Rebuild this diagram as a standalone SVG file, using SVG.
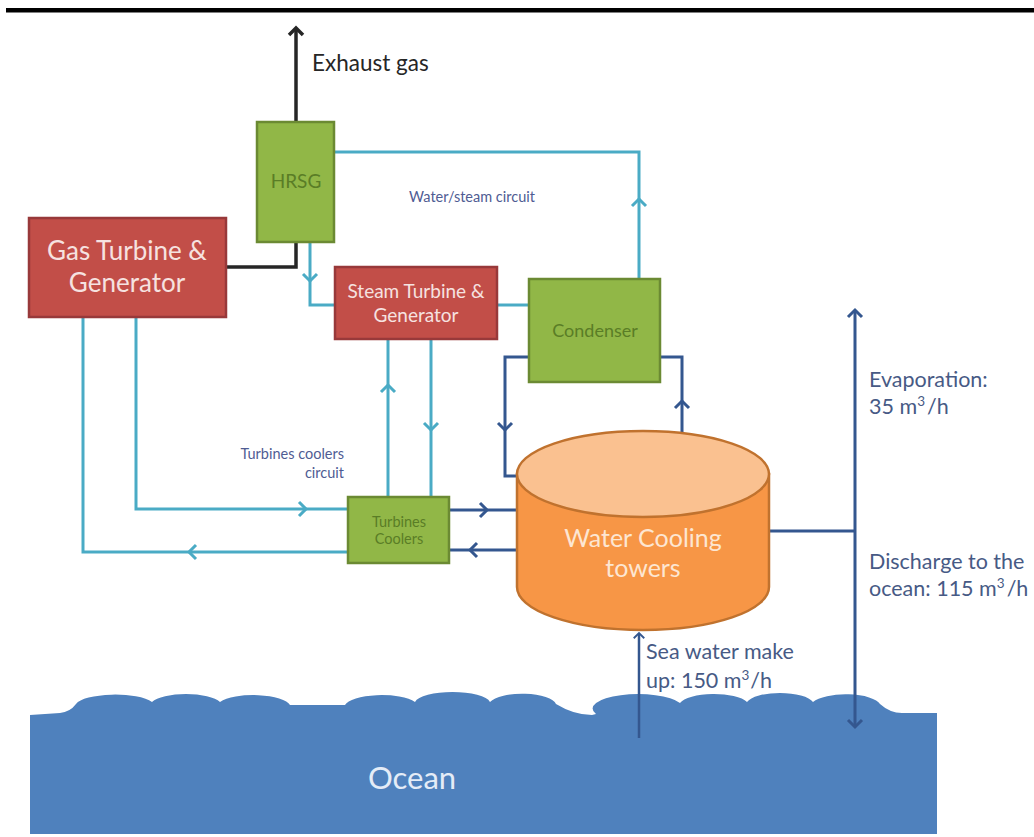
<svg xmlns="http://www.w3.org/2000/svg" xmlns:xlink="http://www.w3.org/1999/xlink" width="1034" height="837" viewBox="0 0 1034 837">
<style>
  .cy{fill:none;stroke:#4aabc5;stroke-width:3;stroke-linejoin:miter}
  .db{fill:none;stroke:#34578f;stroke-width:3;stroke-linejoin:miter}
  .bk{fill:none;stroke:#262626;stroke-width:3.5;stroke-linejoin:miter}
  .green{fill:#91b747;stroke:#6b8a33;stroke-width:2.5}
  .red{fill:#c24e48;stroke:#98393a;stroke-width:2.5}
  .t{font-family:Lato,"Liberation Sans",sans-serif}
  .gt{fill:#5a7d26}
  .rt{fill:#f6e2e0}
  .lbl{fill:#475a85;font-size:21.5px}
  .sm{fill:#4f5c93;font-size:14.5px}
  .sup{font-size:13.5px}
</style>
<defs>
  <path id="chev" d="M-7,-7 L0,0 L-7,7" fill="none"/>
</defs>
<rect x="6" y="8" width="1028" height="4.5" fill="#000"/>

<g id="ocean">
  <path fill="#4f81bd" d="M30,834 L30,715 L60,713 Q70,712 76,704 A40,12 0 0 1 152,702 A36,12 0 0 1 220,702 A37,12 0 0 1 290,705 L345,705 A37,12 0 0 1 415,702 A38,12 0 0 1 490,702 A34,12 0 0 1 556,704 Q574,715 592,715 L596,714 A44,14 0 0 1 680,703 A35,12 0 0 1 747,702 A34,12 0 0 1 813,702 A35,12 0 0 1 880,704 Q890,713 902,713 L937,713 L937,834 Z"/>
  <text class="t" x="412" y="789" text-anchor="middle" font-size="31" fill="#e4ecf7">Ocean</text>
</g>

<g id="connectors">
  <!-- exhaust -->
  <path class="bk" d="M296,122 L296,29"/>
  <use xlink:href="#chev" class="bk" transform="translate(296,28) rotate(-90)"/>
  <path class="bk" d="M226,267 L296,267 L296,242"/>
  <!-- water/steam circuit -->
  <path class="cy" d="M334,152 L639,152 L639,279"/>
  <use xlink:href="#chev" class="cy" transform="translate(639,199) rotate(-90)"/>
  <path class="cy" d="M310,242 L310,305 L335,305"/>
  <use xlink:href="#chev" class="cy" transform="translate(310,281) rotate(90)"/>
  <path class="cy" d="M497,305 L529,305"/>
  <!-- turbine coolers circuit -->
  <path class="cy" d="M83,317 L83,552 L348,552"/>
  <use xlink:href="#chev" class="cy" transform="translate(189,552) rotate(180)"/>
  <path class="cy" d="M136,317 L136,509 L348,509"/>
  <use xlink:href="#chev" class="cy" transform="translate(306,509)"/>
  <path class="cy" d="M388,497 L388,339"/>
  <use xlink:href="#chev" class="cy" transform="translate(388,385) rotate(-90)"/>
  <path class="cy" d="M431,339 L431,497"/>
  <use xlink:href="#chev" class="cy" transform="translate(431,430) rotate(90)"/>
  <!-- cooling water -->
  <path class="db" d="M529,357 L505,357 L505,476 L520,476"/>
  <use xlink:href="#chev" class="db" transform="translate(505,430) rotate(90)"/>
  <path class="db" d="M682,440 L682,357 L660,357"/>
  <use xlink:href="#chev" class="db" transform="translate(682,401) rotate(-90)"/>
  <path class="db" d="M449,510 L520,510"/>
  <use xlink:href="#chev" class="db" transform="translate(487,510)"/>
  <path class="db" d="M520,550 L449,550"/>
  <use xlink:href="#chev" class="db" transform="translate(470,550) rotate(180)"/>
  <path class="db" d="M766,531 L855,531"/>
  <path class="db" d="M855,726 L855,311"/>
  <use xlink:href="#chev" class="db" transform="translate(855,310) rotate(-90)"/>
  <use xlink:href="#chev" class="db" transform="translate(855,727) rotate(90)"/>
  <path class="db" d="M639,738 L639,634" style="stroke-width:2.5"/>
  <use xlink:href="#chev" class="db" transform="translate(639,633) rotate(-90) scale(0.75)" style="stroke-width:2.5"/>
  <!-- labels -->
  <text class="t" x="312" y="71" font-size="22.5" fill="#262626">Exhaust gas</text>
  <text class="t sm" x="472" y="202" text-anchor="middle">Water/steam circuit</text>
  <text class="t sm" x="344" y="459" text-anchor="end">Turbines coolers</text>
  <text class="t sm" x="344" y="478" text-anchor="end">circuit</text>
  <text class="t lbl" x="869" y="387">Evaporation:</text>
  <text class="t lbl" x="869" y="414">35 m<tspan class="sup" dy="-8">3</tspan><tspan dx="2" dy="8">/h</tspan></text>
  <text class="t lbl" x="869" y="569">Discharge to the</text>
  <text class="t lbl" x="869" y="596">ocean: 115 m<tspan class="sup" dy="-8">3</tspan><tspan dx="2" dy="8">/h</tspan></text>
  <text class="t lbl" x="646" y="659">Sea water make</text>
  <text class="t lbl" x="646" y="688">up: 150 m<tspan class="sup" dy="-8">3</tspan><tspan dx="1" dy="8">/h</tspan></text>
</g>

<g id="hrsg">
  <rect class="green" x="257" y="122" width="77" height="120"/>
  <text class="t gt" x="296" y="188" text-anchor="middle" font-size="19">HRSG</text>
</g>

<g id="gas-turbine">
  <rect class="red" x="29" y="218" width="197" height="99"/>
  <text class="t rt" x="127" y="260" text-anchor="middle" font-size="26">Gas Turbine &amp;</text>
  <text class="t rt" x="127" y="292" text-anchor="middle" font-size="26">Generator</text>
</g>

<g id="steam-turbine">
  <rect class="red" x="335" y="267" width="162" height="72"/>
  <text class="t rt" x="416" y="298" text-anchor="middle" font-size="19">Steam Turbine &amp;</text>
  <text class="t rt" x="416" y="322" text-anchor="middle" font-size="19">Generator</text>
</g>

<g id="condenser">
  <rect class="green" x="529" y="279" width="131" height="103"/>
  <text class="t gt" x="595" y="337" text-anchor="middle" font-size="18">Condenser</text>
</g>

<g id="turbines-coolers">
  <rect class="green" x="348" y="497" width="101" height="66"/>
  <text class="t gt" x="399" y="527" text-anchor="middle" font-size="14.5">Turbines</text>
  <text class="t gt" x="399" y="544" text-anchor="middle" font-size="14.5">Coolers</text>
</g>

<g id="cooling-towers">
  <path d="M517,474 L517,587 A126,43 0 0 0 769,587 L769,474 Z" fill="#f79646" stroke="#c0722e" stroke-width="2.5"/>
  <ellipse cx="643" cy="474" rx="126" ry="43" fill="#fac190" stroke="#c0722e" stroke-width="2.5"/>
  <text class="t" x="643" y="547" text-anchor="middle" font-size="25" fill="#fde6d2">Water Cooling</text>
  <text class="t" x="643" y="577" text-anchor="middle" font-size="25" fill="#fde6d2">towers</text>
</g>
</svg>
